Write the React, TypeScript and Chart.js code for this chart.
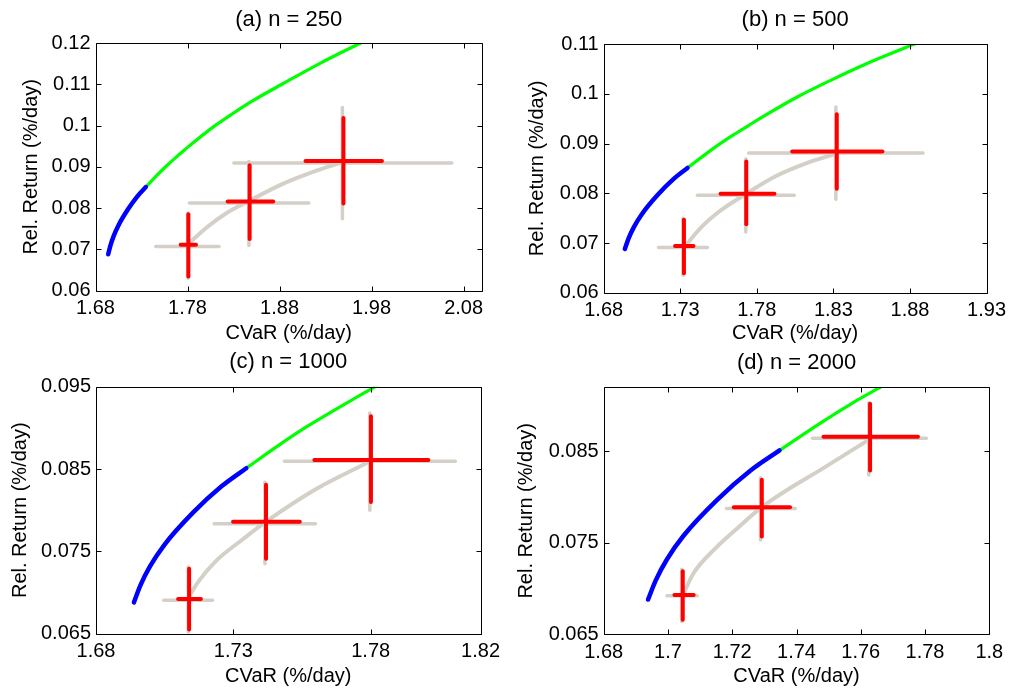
import React, { useEffect, useRef } from 'react';
import { Chart, registerables } from 'chart.js';

Chart.register(...registerables);

const FONT = "'Liberation Sans', Arial, Helvetica, sans-serif";

// ---------- Shared efficient frontier ----------
const frontierBlueX = [1.6938, 1.6962, 1.6997, 1.7049, 1.7153, 1.7257, 1.7347];
const frontierBlueY = [0.0688, 0.0709, 0.0732, 0.0758, 0.0797, 0.0829, 0.0851];
const frontierGreenX = [1.7347, 1.7466, 1.757, 1.7665, 1.7748, 1.7854, 1.807, 1.8285, 1.8501, 1.8825, 1.925, 1.968];
const frontierGreenY = [0.0851, 0.0879, 0.0902, 0.0921, 0.0937, 0.0957, 0.0995, 0.1028, 0.1059, 0.11, 0.1152, 0.12];

// ---------- Panel (a) n = 250 ----------
const aTitle = '(a) n = 250';
const aXRange = [1.68, 2.1];
const aYRange = [0.06, 0.12];
const aXTicks = [1.68, 1.78, 1.88, 1.98, 2.08];
const aYTicks = [0.06, 0.07, 0.08, 0.09, 0.1, 0.11, 0.12];
const aRedX = [1.7809, 1.8475, 1.9494];
const aRedY = [0.0711, 0.0816, 0.0914];
const aRedXLo = [1.7726, 1.8236, 1.9082];
const aRedXHi = [1.7892, 1.8731, 1.9913];
const aRedYLo = [0.0634, 0.0725, 0.0811];
const aRedYHi = [0.0785, 0.0904, 0.1018];
const aGrayX = [1.7805, 1.8467, 1.9483];
const aGrayY = [0.0707, 0.0812, 0.0909];
const aGrayXLo = [1.7455, 1.782, 1.8304];
const aGrayXHi = [1.8142, 1.9118, 2.0672];
const aGrayYLo = [0.063, 0.0709, 0.0774];
const aGrayYHi = [0.0788, 0.0913, 0.1044];
const aCurveX = [1.7823, 1.8008, 1.8225, 1.8475, 1.8829, 1.9194, 1.9454];
const aCurveY = [0.0716, 0.0753, 0.0788, 0.0818, 0.0858, 0.089, 0.0909];

// ---------- Panel (b) n = 500 ----------
const bTitle = '(b) n = 500';
const bXRange = [1.68, 1.93];
const bYRange = [0.06, 0.11];
const bXTicks = [1.68, 1.73, 1.78, 1.83, 1.88, 1.93];
const bYTicks = [0.06, 0.07, 0.08, 0.09, 0.1, 0.11];
const bRedX = [1.7324, 1.7731, 1.8322];
const bRedY = [0.0694, 0.0799, 0.0884];
const bRedXLo = [1.7266, 1.7563, 1.8031];
const bRedXHi = [1.7386, 1.7915, 1.862];
const bRedYLo = [0.0639, 0.0738, 0.0809];
const bRedYHi = [0.0747, 0.0864, 0.0959];
const bGrayX = [1.7318, 1.7728, 1.8316];
const bGrayY = [0.0691, 0.0796, 0.0881];
const bGrayXLo = [1.7158, 1.7412, 1.7746];
const bGrayXHi = [1.7477, 1.8044, 1.8885];
const bGrayYLo = [0.0635, 0.0722, 0.0788];
const bGrayYHi = [0.075, 0.0869, 0.0974];
const bCurveX = [1.7332, 1.7444, 1.7552, 1.7725, 1.7919, 1.8134, 1.8307];
const bCurveY = [0.0694, 0.0734, 0.0763, 0.0798, 0.0834, 0.0862, 0.0879];

// ---------- Panel (c) n = 1000 ----------
const cTitle = '(c) n = 1000';
const cXRange = [1.68, 1.82];
const cYRange = [0.065, 0.095];
const cXTicks = [1.68, 1.73, 1.78, 1.82];
const cYTicks = [0.065, 0.075, 0.085, 0.095];
const cRedX = [1.7139, 1.7419, 1.7801];
const cRedY = [0.0692, 0.0786, 0.0861];
const cRedXLo = [1.7099, 1.7299, 1.7595];
const cRedXHi = [1.7182, 1.7542, 1.801];
const cRedYLo = [0.0655, 0.0741, 0.081];
const cRedYHi = [0.0729, 0.0831, 0.0914];
const cGrayX = [1.7136, 1.7415, 1.7797];
const cGrayY = [0.06905, 0.07835, 0.08594];
const cGrayXLo = [1.7047, 1.723, 1.7486];
const cGrayXHi = [1.7224, 1.7599, 1.8108];
const cGrayYLo = [0.0652, 0.0735, 0.08];
const cGrayYHi = [0.0731, 0.0834, 0.0918];
const cCurveX = [1.7142, 1.7172, 1.7239, 1.7336, 1.7419, 1.7603, 1.7784];
const cCurveY = [0.0697, 0.0713, 0.0739, 0.0765, 0.0786, 0.0826, 0.0857];

// ---------- Panel (d) n = 2000 ----------
const dTitle = '(d) n = 2000';
const dXRange = [1.68, 1.8];
const dYRange = [0.065, 0.092];
const dXTicks = [1.68, 1.7, 1.72, 1.74, 1.76, 1.78, 1.8];
const dYTicks = [0.065, 0.075, 0.085];
const dRedX = [1.7046, 1.7292, 1.7629];
const dRedY = [0.0693, 0.0789, 0.0866];
const dRedXLo = [1.702, 1.7205, 1.7484];
const dRedXHi = [1.708, 1.738, 1.7778];
const dRedYLo = [0.0666, 0.0757, 0.0829];
const dRedYHi = [0.0719, 0.0819, 0.0902];
const dGrayX = [1.7043, 1.7288, 1.7625];
const dGrayY = [0.06922, 0.07874, 0.08642];
const dGrayXLo = [1.6997, 1.7182, 1.745];
const dGrayXHi = [1.7091, 1.7396, 1.7804];
const dGrayYLo = [0.0664, 0.0753, 0.0824];
const dGrayYHi = [0.0721, 0.0821, 0.0903];
const dCurveX = [1.7049, 1.708, 1.7142, 1.7216, 1.7288, 1.7372, 1.7476, 1.7622];
const dCurveY = [0.0695, 0.0717, 0.0742, 0.0766, 0.0788, 0.0808, 0.083, 0.0862];

const xLabel = 'CVaR (%/day)';
const yLabel = 'Rel. Return (%/day)';

// ---------- Styles / layout ----------
const BLUE = '#0000ff';
const GREEN = '#00ff00';
const RED = '#ff0000';
const GRAY = 'rgb(212,208,200)';

type PanelData = {
  title: string;
  xRange: number[]; yRange: number[];
  xTicks: number[]; yTicks: number[];
  redX: number[]; redY: number[]; redXLo: number[]; redXHi: number[]; redYLo: number[]; redYHi: number[];
  grayX: number[]; grayY: number[]; grayXLo: number[]; grayXHi: number[]; grayYLo: number[]; grayYHi: number[];
  curveX: number[]; curveY: number[];
};

type Layout = {
  left: number; top: number; w: number; h: number;
  areaL: number; areaR: number; areaT: number; areaB: number;
  titleCY: number; yLabelCX: number; xLabelPadB: number;
};

const PANELS: PanelData[] = [
  { title: aTitle, xRange: aXRange, yRange: aYRange, xTicks: aXTicks, yTicks: aYTicks,
    redX: aRedX, redY: aRedY, redXLo: aRedXLo, redXHi: aRedXHi, redYLo: aRedYLo, redYHi: aRedYHi,
    grayX: aGrayX, grayY: aGrayY, grayXLo: aGrayXLo, grayXHi: aGrayXHi, grayYLo: aGrayYLo, grayYHi: aGrayYHi,
    curveX: aCurveX, curveY: aCurveY },
  { title: bTitle, xRange: bXRange, yRange: bYRange, xTicks: bXTicks, yTicks: bYTicks,
    redX: bRedX, redY: bRedY, redXLo: bRedXLo, redXHi: bRedXHi, redYLo: bRedYLo, redYHi: bRedYHi,
    grayX: bGrayX, grayY: bGrayY, grayXLo: bGrayXLo, grayXHi: bGrayXHi, grayYLo: bGrayYLo, grayYHi: bGrayYHi,
    curveX: bCurveX, curveY: bCurveY },
  { title: cTitle, xRange: cXRange, yRange: cYRange, xTicks: cXTicks, yTicks: cYTicks,
    redX: cRedX, redY: cRedY, redXLo: cRedXLo, redXHi: cRedXHi, redYLo: cRedYLo, redYHi: cRedYHi,
    grayX: cGrayX, grayY: cGrayY, grayXLo: cGrayXLo, grayXHi: cGrayXHi, grayYLo: cGrayYLo, grayYHi: cGrayYHi,
    curveX: cCurveX, curveY: cCurveY },
  { title: dTitle, xRange: dXRange, yRange: dYRange, xTicks: dXTicks, yTicks: dYTicks,
    redX: dRedX, redY: dRedY, redXLo: dRedXLo, redXHi: dRedXHi, redYLo: dRedYLo, redYHi: dRedYHi,
    grayX: dGrayX, grayY: dGrayY, grayXLo: dGrayXLo, grayXHi: dGrayXHi, grayYLo: dGrayYLo, grayYHi: dGrayYHi,
    curveX: dCurveX, curveY: dCurveY },
];

const LAYOUTS: Layout[] = [
  { left: 0, top: 0, w: 506, h: 345, areaL: 95.5, areaR: 482, areaT: 43, areaB: 290.6, titleCY: 19.5, yLabelCX: 31.7, xLabelPadB: 0 },
  { left: 506, top: 0, w: 506, h: 345, areaL: 97.7, areaR: 483.3, areaT: 44.3, areaB: 292.7, titleCY: 20, yLabelCX: 31.7, xLabelPadB: 0 },
  { left: 0, top: 345, w: 506, h: 346, areaL: 96, areaR: 482.3, areaT: 41.7, areaB: 288.7, titleCY: 16.7, yLabelCX: 20, xLabelPadB: 2.3 },
  { left: 506, top: 345, w: 506, h: 346, areaL: 97.7, areaR: 483.3, areaT: 42.3, areaB: 289.3, titleCY: 18.3, yLabelCX: 20, xLabelPadB: 2.3 },
];

const zip = (xs: number[], ys: number[]) => xs.map((x, i) => ({ x, y: ys[i] }));

function lineDs(data: any[], color: string, width: number, order: number, smooth = false) {
  return {
    data,
    borderColor: color,
    backgroundColor: color,
    borderWidth: width,
    showLine: true,
    pointRadius: 0,
    pointHoverRadius: 0,
    fill: false,
    order,
    borderCapStyle: 'round',
    borderJoinStyle: 'round',
    cubicInterpolationMode: smooth ? 'monotone' : 'default',
    tension: 0,
    clip: 0,
  };
}

function buildDatasets(p: PanelData) {
  const ds: any[] = [];
  ds.push(lineDs(zip(frontierBlueX, frontierBlueY), BLUE, 4.5, 1, true));
  ds.push(lineDs(zip(frontierGreenX, frontierGreenY), GREEN, 3.2, 1, true));
  for (let i = 0; i < p.redX.length; i++) {
    ds.push(lineDs([{ x: p.redXLo[i], y: p.redY[i] }, { x: p.redXHi[i], y: p.redY[i] }], RED, 4, 0));
    ds.push(lineDs([{ x: p.redX[i], y: p.redYLo[i] }, { x: p.redX[i], y: p.redYHi[i] }], RED, 4, 0));
    ds.push(lineDs([{ x: p.grayXLo[i], y: p.grayY[i] }, { x: p.grayXHi[i], y: p.grayY[i] }], GRAY, 3.5, 2));
    ds.push(lineDs([{ x: p.grayX[i], y: p.grayYLo[i] }, { x: p.grayX[i], y: p.grayYHi[i] }], GRAY, 3.5, 2));
  }
  ds.push(lineDs(zip(p.curveX, p.curveY), GRAY, 4, 3, true));
  return ds;
}

const framePlugin = {
  id: 'matlabFrame',
  afterDraw(chart: any) {
    const { ctx, chartArea, scales } = chart;
    const { left, right, top, bottom } = chartArea;
    const L = Math.round(left) + 0.5, R = Math.round(right) + 0.5;
    const T = Math.round(top) + 0.5, B = Math.round(bottom) + 0.5;
    const tl = 5;
    ctx.save();
    ctx.strokeStyle = '#000';
    ctx.lineWidth = 1;
    ctx.beginPath();
    ctx.rect(L, T, R - L, B - T);
    scales.x.ticks.forEach((t: any) => {
      const px = Math.round(scales.x.getPixelForValue(t.value)) + 0.5;
      ctx.moveTo(px, B); ctx.lineTo(px, B - tl);
      ctx.moveTo(px, T); ctx.lineTo(px, T + tl);
    });
    scales.y.ticks.forEach((t: any) => {
      const py = Math.round(scales.y.getPixelForValue(t.value)) + 0.5;
      ctx.moveTo(L, py); ctx.lineTo(L + tl, py);
      ctx.moveTo(R, py); ctx.lineTo(R - tl, py);
    });
    ctx.stroke();
    ctx.restore();
  },
};

function Panel({ data, layout }: { data: PanelData; layout: Layout }) {
  const ref = useRef<HTMLCanvasElement | null>(null);
  useEffect(() => {
    if (!ref.current) return;
    const titleSize = 22;
    const titleLH = titleSize * 1.2;
    const labelSize = 20;
    const labelLH = labelSize * 1.2;
    const chart = new Chart(ref.current, {
      type: 'scatter',
      data: { datasets: buildDatasets(data) as any },
      plugins: [framePlugin as any],
      options: {
        responsive: false,
        animation: false,
        devicePixelRatio: 1,
        layout: { padding: { left: 0, top: 0, bottom: 0, right: layout.w - layout.areaR } },
        plugins: {
          legend: { display: false },
          tooltip: { enabled: false },
          title: {
            display: true,
            fullSize: false,
            text: data.title,
            color: '#000',
            font: { family: FONT, size: titleSize, weight: 'normal' as any },
            padding: { top: layout.titleCY - titleLH / 2, bottom: layout.areaT - layout.titleCY - titleLH / 2 },
          },
        },
        scales: {
          x: {
            type: 'linear',
            min: data.xRange[0],
            max: data.xRange[1],
            afterBuildTicks: (s: any) => { s.ticks = data.xTicks.map((v) => ({ value: v })); },
            afterFit: (s: any) => { s.height = layout.h - layout.areaB; },
            ticks: {
              color: '#000',
              font: { family: FONT, size: labelSize },
              padding: 6,
              maxRotation: 0,
              autoSkip: false,
              callback: (v: any) => String(v),
            },
            grid: { display: false, drawTicks: false },
            border: { display: false },
            title: {
              display: true,
              text: xLabel,
              color: '#000',
              font: { family: FONT, size: labelSize },
              padding: { top: 0, bottom: layout.xLabelPadB },
            },
          },
          y: {
            type: 'linear',
            min: data.yRange[0],
            max: data.yRange[1],
            afterBuildTicks: (s: any) => { s.ticks = data.yTicks.map((v) => ({ value: v })); },
            afterFit: (s: any) => { s.width = layout.areaL; },
            ticks: {
              color: '#000',
              font: { family: FONT, size: labelSize },
              padding: 5,
              autoSkip: false,
              callback: (v: any) => String(v),
            },
            grid: { display: false, drawTicks: false },
            border: { display: false },
            title: {
              display: true,
              text: yLabel,
              color: '#000',
              font: { family: FONT, size: labelSize },
              padding: { top: layout.yLabelCX - labelLH / 2, bottom: 0 },
            },
          },
        },
      } as any,
    });
    return () => chart.destroy();
  }, [data, layout]);
  return (
    <canvas
      ref={ref}
      width={layout.w}
      height={layout.h}
      style={{ position: 'absolute', left: layout.left, top: layout.top, width: layout.w, height: layout.h }}
    />
  );
}

export default function App() {
  return (
    <div style={{ position: 'fixed', left: 0, top: 0, width: 1012, height: 691, background: '#fff', overflow: 'hidden' }}>
      {PANELS.map((p, i) => (
        <Panel key={i} data={p} layout={LAYOUTS[i]} />
      ))}
    </div>
  );
}
